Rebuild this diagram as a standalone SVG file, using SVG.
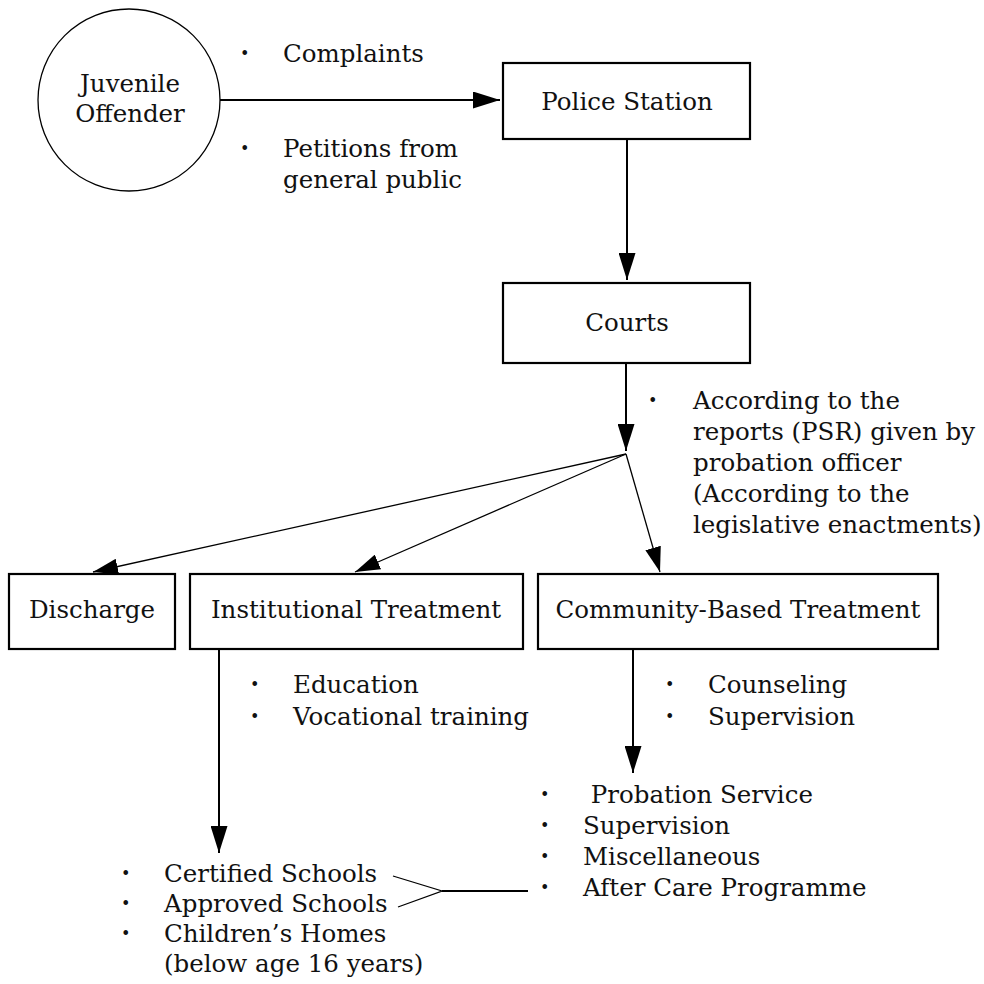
<svg xmlns="http://www.w3.org/2000/svg" width="984" height="984" viewBox="0 0 984 984">
<style>
text{font-family:"DejaVu Serif","Liberation Serif",serif;font-size:24.5px;fill:#111}
.c{text-anchor:middle}
.b{font-size:16px}
.box{fill:#fff;stroke:#000;stroke-width:2.2}
.thick{stroke:#000;stroke-width:2;fill:none}
.thin{stroke:#000;stroke-width:1.3;fill:none}
</style>
<defs>
<marker id="ah" viewBox="0 0 27 17" refX="27" refY="8.5" markerWidth="27" markerHeight="17" markerUnits="userSpaceOnUse" orient="auto">
<path d="M0,0 L27,8.5 L0,17 z" fill="#000"/>
</marker>
<marker id="ah2" viewBox="0 0 25 16" refX="25" refY="8" markerWidth="25" markerHeight="16" markerUnits="userSpaceOnUse" orient="auto">
<path d="M0,0 L25,8 L0,16 z" fill="#000"/>
</marker>
</defs>
<rect width="984" height="984" fill="#fff"/>

<g id="connectors">
<line class="thick" x1="220" y1="100" x2="500" y2="100" marker-end="url(#ah)"/>
<line class="thick" x1="627" y1="139" x2="627" y2="280" marker-end="url(#ah)"/>
<line class="thick" x1="626" y1="363" x2="626" y2="451" marker-end="url(#ah)"/>
<line class="thin" x1="626" y1="454" x2="93" y2="572" marker-end="url(#ah2)"/>
<line class="thin" x1="626" y1="454" x2="355" y2="572" marker-end="url(#ah2)"/>
<line class="thin" x1="626" y1="454" x2="660" y2="572" marker-end="url(#ah2)"/>
<line class="thick" x1="219" y1="649" x2="219" y2="853" marker-end="url(#ah)"/>
<line class="thick" x1="633" y1="649" x2="633" y2="773" marker-end="url(#ah)"/>
<polyline class="thin" points="393,876 442,891 398,907"/>
<line class="thick" x1="442" y1="891" x2="528" y2="891"/>
</g>

<g id="juvenile-offender">
<circle cx="129" cy="100" r="91" fill="#fff" stroke="#000" stroke-width="1.3"/>
<text class="c" x="130" y="92">Juvenile</text>
<text class="c" x="130" y="122">Offender</text>
</g>

<g id="label-complaints">
<text class="b" x="240" y="59">•</text>
<text x="283" y="62">Complaints</text>
<text class="b" x="240" y="154">•</text>
<text x="283" y="157">Petitions from</text>
<text x="283" y="188">general public</text>
</g>

<g id="police-station">
<rect class="box" x="503" y="63" width="247" height="76"/>
<text class="c" x="627" y="110">Police Station</text>
</g>

<g id="courts">
<rect class="box" x="503" y="283" width="247" height="80"/>
<text class="c" x="627" y="331">Courts</text>
</g>

<g id="label-psr">
<text class="b" x="648" y="406">•</text>
<text x="693" y="409">According to the</text>
<text x="693" y="440">reports (PSR) given by</text>
<text x="693" y="471">probation officer</text>
<text x="693" y="502">(According to the</text>
<text x="693" y="533">legislative enactments)</text>
</g>

<g id="discharge">
<rect class="box" x="9" y="574" width="166" height="75"/>
<text class="c" x="92" y="618">Discharge</text>
</g>

<g id="institutional-treatment">
<rect class="box" x="190" y="574" width="333" height="75"/>
<text class="c" x="356" y="618">Institutional Treatment</text>
</g>

<g id="community-based-treatment">
<rect class="box" x="538" y="574" width="400" height="75"/>
<text class="c" x="738" y="618">Community-Based Treatment</text>
</g>

<g id="label-education">
<text class="b" x="250" y="690">•</text>
<text x="293" y="693">Education</text>
<text class="b" x="250" y="722">•</text>
<text x="293" y="725">Vocational training</text>
</g>

<g id="label-counseling">
<text class="b" x="665" y="690">•</text>
<text x="708" y="693">Counseling</text>
<text class="b" x="665" y="722">•</text>
<text x="708" y="725">Supervision</text>
</g>

<g id="community-services">
<text class="b" x="540" y="800">•</text>
<text x="583" y="803" xml:space="preserve"> Probation Service</text>
<text class="b" x="540" y="831">•</text>
<text x="583" y="834">Supervision</text>
<text class="b" x="540" y="862">•</text>
<text x="583" y="865">Miscellaneous</text>
<text class="b" x="540" y="893">•</text>
<text x="583" y="896">After Care Programme</text>
</g>

<g id="institutions">
<text class="b" x="121" y="879">•</text>
<text x="164" y="882">Certified Schools</text>
<text class="b" x="121" y="909">•</text>
<text x="164" y="912">Approved Schools</text>
<text class="b" x="121" y="939">•</text>
<text x="164" y="942">Children’s Homes</text>
<text x="164" y="972">(below age 16 years)</text>
</g>
</svg>
